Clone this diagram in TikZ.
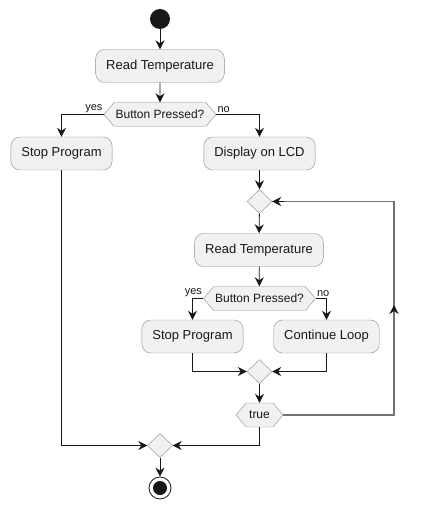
\documentclass[tikz,border=0pt]{standalone}
\usepackage{fontspec}
\setmainfont{Liberation Sans}
\usetikzlibrary{shapes.geometric,shapes.symbols,arrows.meta}
\definecolor{actfill}{HTML}{F1F1F1}
\definecolor{actline}{HTML}{8C8C8C}
\definecolor{flowline}{HTML}{181818}
\tikzset{
	action/.style={draw=actline, fill=actfill, rounded corners=9pt, minimum height=33pt, inner xsep=10.5pt, text=flowline, font=\fontsize{13}{15}\selectfont},
	decision/.style={draw=actline, fill=actfill, shape=signal, signal to=west and east, signal pointer angle=100, minimum height=24pt, inner xsep=1.5pt, text=flowline, font=\fontsize{12}{14}\selectfont},
	merge/.style={draw=actline, fill=actfill, diamond, minimum width=25pt, minimum height=24pt, inner sep=0pt},
	flow/.style={draw=flowline, line width=0.8pt, -{Stealth[length=9pt,width=9pt,inset=3pt]}},
	loopback/.style={draw=black!55, line width=1.3pt},
	branch/.style={font=\fontsize{11}{12}\selectfont, text=flowline, inner sep=1pt},
}
\begin{document}
\begin{tikzpicture}[x=1pt,y=-1pt]
	\useasboundingbox (0,0) rectangle (420,510);
	% first pass
	\node [circle, fill=flowline, minimum size=20pt, inner sep=0pt] (start) at (160,19) {};
	\node [action] (read1) at (160,66) {Read Temperature};
	\node [decision] (button1) at (160,114.5) {Button Pressed?};
	\node [action] (stop1) at (61.5,153.5) {Stop Program};
	\node [action] (lcd) at (259.5,153.5) {Display on LCD};
	% loop
	\node [merge] (loophead) at (259.5,201.5) {};
	\node [action] (read2) at (259,250) {Read Temperature};
	\node [decision] (button2) at (259.5,298.5) {Button Pressed?};
	\node [action] (stop2) at (192.5,336.5) {Stop Program};
	\node [action] (cont) at (326.5,336.5) {Continue Loop};
	\node [merge] (join2) at (259.5,371.5) {};
	\node [decision, minimum width=47pt] (cond) at (259.5,415) {true};
	% end
	\node [merge] (join1) at (160,445.5) {};
	\node [circle, draw=flowline, line width=0.8pt, fill=white, minimum size=22pt, inner sep=0pt,
		path picture={\fill [flowline] (path picture bounding box.center) circle (7pt);}] (stop) at (160,488) {};
	\coordinate (loopcorner) at (394,415);
	\coordinate (looptip) at (394,305);
	\coordinate (loopend) at (284,201.5);

	\draw [flow] (start) -- (read1);
	\draw [flow] (read1) -- (button1);
	\draw [flow] (button1.west) node [branch, anchor=south east] {yes} -| (stop1);
	\draw [flow] (button1.east) node [branch, anchor=south west] {no} -| (lcd);
	\draw [flow] (stop1) |- (join1);
	\draw [flow] (lcd) -- (loophead);
	\draw [flow] (loophead) -- (read2);
	\draw [flow] (read2) -- (button2);
	\draw [flow] (button2.west) node [branch, anchor=south east] {yes} -| (stop2);
	\draw [flow] (button2.east) node [branch, anchor=south west] {no} -| (cont);
	\draw [flow] (stop2) |- (join2);
	\draw [flow] (cont) |- (join2);
	\draw [flow] (join2) -- (cond);
	% loop back, grey line with black tips
	\draw [loopback] (cond.east) -- (loopcorner) |- (loophead.east);
	\draw [flow] ([yshift=-3pt]looptip) -- (looptip);
	\draw [flow] (loopend) -- (loophead.east);
	\draw [flow] (cond) |- (join1);
	\draw [flow] (join1) -- (stop);
\end{tikzpicture}
\end{document}
